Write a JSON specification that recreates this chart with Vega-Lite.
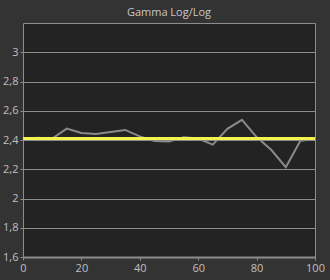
{
  "$schema": "https://vega.github.io/schema/vega-lite/v6.json",
  "width": 292,
  "height": 234,
  "autosize": {"type": "none"},
  "padding": {"left": 23, "top": 23, "right": 15, "bottom": 23},
  "background": "#333333",
  "title": {"text": "Gamma Log/Log", "color": "#c8c8c8", "font": "Open Sans", "fontSize": 11, "fontWeight": "normal", "offset": 5, "anchor": "middle"},
  "config": {
    "view": {"fill": "#232323", "stroke": "#8c8c8c", "strokeWidth": 1},
    "axis": {"labelFont": "Open Sans", "labelFontSize": 11, "labelColor": "#c0c0c0", "domain": false, "tickColor": "#8c8c8c", "tickSize": 3, "gridColor": "#8c8c8c", "gridOpacity": 1, "gridWidth": 1, "title": null, "labelPadding": 2, "labelOverlap": false, "labelBound": false, "labelFlush": false}
  },
  "datasets": {
    "all": [
      {"s": "meas", "x": 0, "g": 2.407}, {"s": "meas", "x": 5, "g": 2.415}, {"s": "meas", "x": 10, "g": 2.41}, {"s": "meas", "x": 15, "g": 2.478},
      {"s": "meas", "x": 20, "g": 2.448}, {"s": "meas", "x": 25, "g": 2.441}, {"s": "meas", "x": 30, "g": 2.455}, {"s": "meas", "x": 35, "g": 2.469},
      {"s": "meas", "x": 40, "g": 2.425}, {"s": "meas", "x": 45, "g": 2.393}, {"s": "meas", "x": 50, "g": 2.389}, {"s": "meas", "x": 55, "g": 2.418},
      {"s": "meas", "x": 60, "g": 2.41}, {"s": "meas", "x": 65, "g": 2.368}, {"s": "meas", "x": 70, "g": 2.476}, {"s": "meas", "x": 75, "g": 2.538},
      {"s": "meas", "x": 80, "g": 2.42}, {"s": "meas", "x": 85, "g": 2.333}, {"s": "meas", "x": 90, "g": 2.214}, {"s": "meas", "x": 95, "g": 2.395},
      {"s": "meas", "x": 100, "g": 2.407},
      {"s": "target", "x": 0, "g": 2.41}, {"s": "target", "x": 100, "g": 2.41}
    ]
  },
  "data": {"name": "all"},
  "encoding": {
    "x": {"field": "x", "type": "quantitative", "scale": {"domain": [0, 100], "nice": false}, "axis": {"values": [0, 20, 40, 60, 80, 100], "grid": false, "domain": true, "domainColor": "#8c8c8c", "domainWidth": 2}},
    "y": {"field": "g", "type": "quantitative", "scale": {"domain": [1.6, 3.2], "nice": false, "zero": false}, "axis": {"values": [1.6, 1.8, 2, 2.2, 2.4, 2.6, 2.8, 3], "labelExpr": "replace(format(datum.value, '.1~f'), '.', ',')"}}
  },
  "layer": [
    {
      "transform": [{"filter": "datum.s === 'meas'"}],
      "mark": {"type": "line", "color": "#8a8a8a", "strokeWidth": 2}
    },
    {
      "transform": [{"filter": "datum.s === 'target'"}],
      "mark": {"type": "line", "color": "#f2f250", "strokeWidth": 3}
    }
  ]
}
